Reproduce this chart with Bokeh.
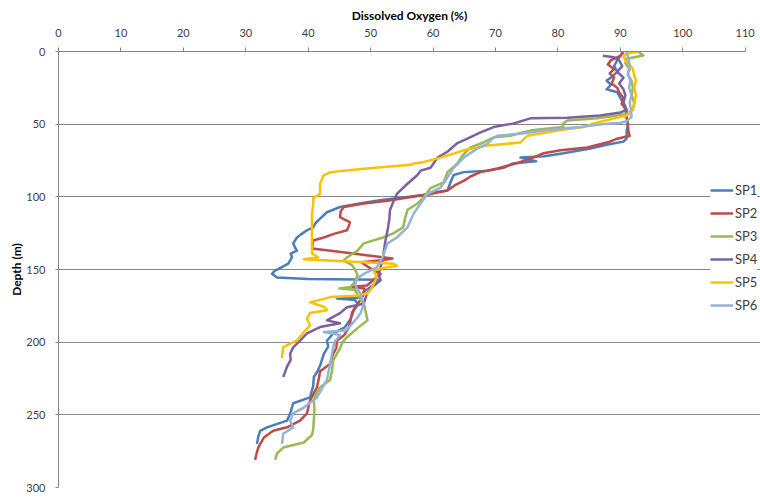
from bokeh.plotting import figure
from bokeh.models import Range1d, FixedTicker, Legend, LegendItem, Title
from bokeh.embed import file_html
from bokeh.resources import INLINE

# ---- data ----
series_names = ["SP1", "SP2", "SP3", "SP4", "SP5", "SP6"]
series_colors = ["#4A7EBB", "#BE4B48", "#98B954", "#7D60A0", "#FFC000", "#95B3D7"]

sp1_depth = [0, 3, 6, 10, 14, 18, 20, 23, 26, 28, 32, 36, 40, 45, 50, 55, 60, 62, 64, 66.7, 70, 72, 73, 75.5, 77, 80, 82, 83, 85, 90, 95.6, 97, 98, 100.4, 102, 104, 107, 110.6, 115, 118, 121, 123, 126, 128, 132, 135, 137, 139, 141.5, 146, 149, 151, 153, 155.5, 156.5, 157, 159, 162, 165, 168, 169.5, 170, 171, 174, 178, 182, 186, 190, 194, 199, 203, 208, 215, 220, 224, 230, 238, 242, 248, 254, 258.6, 261, 265, 270]
sp1_do = [90.5, 90, 89.5, 89, 89.5, 88.5, 87.8, 88.5, 87.8, 89.5, 90, 90.5, 90.8, 91, 91.2, 91, 91, 90.5, 88, 85.2, 80.9, 77.8, 74.0, 76.5, 72.8, 71.3, 68.7, 64.9, 63.3, 62.8, 62.3, 60, 59.6, 55.2, 52, 48.9, 45.1, 43, 41.9, 41.2, 40.8, 39.8, 38.8, 38.2, 37.6, 37.9, 38.2, 37.2, 37.4, 36.8, 35.5, 34.6, 34.2, 35, 40, 51.5, 50.8, 50, 49, 48.5, 48, 44.6, 47.5, 48, 47.3, 47, 46.5, 45.8, 44, 43, 43.2, 42.5, 42, 41.5, 40.9, 40.8, 40.3, 37.6, 37.2, 36.6, 33.4, 32.3, 32, 31.8]

sp2_depth = [0, 3, 6, 9, 12, 15, 18, 22, 25, 28, 32, 36, 40, 45, 50, 55, 58, 60, 62.5, 66, 68, 70, 73, 76, 78, 80.5, 83, 86, 89, 92, 95.6, 98, 100.5, 102.7, 104.6, 107, 110, 114, 117.6, 120, 123, 125.5, 128, 130, 135.6, 137.6, 140, 142.5, 143.5, 145, 148, 153, 157, 161, 162, 163, 168, 172, 176, 180, 185, 190, 195, 199, 204, 208, 215, 220, 225, 231, 240, 249, 254, 258.6, 261, 265.6, 272.5, 277, 281]
sp2_do = [90.5, 90, 88.5, 88, 89, 88.3, 89, 88.6, 89.5, 89.8, 90.5, 90.2, 91, 91, 91.2, 91.3, 91.5, 89.5, 88, 84.7, 80.4, 77.7, 76, 74, 72.5, 70.3, 67.6, 66, 64.9, 63.5, 62.3, 59.6, 56, 52.7, 48.9, 45.7, 45.2, 45.1, 46.7, 46.5, 46.2, 44.1, 42.5, 40.8, 40.6, 44.6, 49, 53.5, 52, 48.5, 49.5, 51.6, 50.5, 49.4, 46.8, 49, 48.8, 48.2, 47.5, 47, 46.8, 46.5, 45.8, 44.6, 44.5, 44, 43.5, 41.9, 41.7, 41.4, 40.3, 39.8, 38.7, 36.6, 34.4, 32.9, 32, 31.7, 31.5]

sp3_depth = [0, 2.8, 5, 8, 12, 16, 20, 25, 30, 35, 40, 43, 44, 46, 47.5, 50, 52, 54, 56, 58, 59, 62.6, 66, 71.6, 77, 83, 90, 94, 100.4, 104.6, 109, 115, 121, 125, 128, 132, 137, 141.7, 143.8, 147, 150, 154, 158, 162, 163, 164, 168, 175, 185, 190, 196.6, 200, 205, 212.6, 220, 226, 231, 236, 240, 247, 254, 260, 264, 269, 272.5, 276.6, 281]
sp3_do = [92.8, 93.7, 91, 90.8, 91.5, 91.2, 91.8, 92, 91.8, 92.2, 92, 91, 89.5, 86.3, 81.5, 80.7, 80.9, 76.1, 74, 72.4, 69.7, 68.1, 66, 64.7, 63.9, 62.3, 61.7, 59.6, 58.5, 57.5, 55.9, 55.5, 55.2, 53.7, 52, 48.9, 47.9, 46.2, 45.7, 47, 47.5, 47.9, 47.5, 46.8, 45, 47.5, 48, 49, 49.5, 48, 46.2, 45.5, 45, 44, 43.8, 43.5, 41.9, 41.2, 40.9, 41, 40.9, 40.8, 40.6, 39.3, 36, 35, 34.7]

sp4_depth = [3, 4, 6, 10, 14, 18, 22, 26, 30, 35, 40, 42, 44, 45.6, 46, 49.5, 52, 55.7, 60, 63, 69, 73, 80, 82, 85, 91, 98, 102.7, 109, 115, 121, 132, 143.8, 153, 157.5, 162, 166.7, 173.6, 176, 180, 185, 187, 189.6, 194, 199, 203.6, 208, 212, 217, 224]
sp4_do = [87.2, 89, 89.8, 90.3, 89.5, 90.5, 89.8, 90.5, 90.8, 90.5, 91, 90, 86.8, 81.5, 75.6, 72.9, 69.7, 67.6, 65.5, 63.9, 62.3, 60.7, 59.6, 58, 57.5, 55.9, 54.2, 53.7, 53.1, 53, 52.8, 52.3, 51.9, 51.3, 51.6, 50.3, 49.4, 48.9, 46.2, 45.1, 43, 45.1, 41.9, 39.8, 38.7, 37.6, 37.1, 37.2, 36.6, 36]

sp5_depth = [0, 1.5, 3, 6, 9, 12, 16, 20, 25, 30, 35, 40, 44, 46, 49.5, 52, 54, 58, 62.6, 64.7, 68, 73, 76, 77, 78, 80.6, 83, 85, 91, 98, 101, 105, 111.5, 128, 139, 141.6, 143, 144, 145, 146, 147.5, 149, 150.7, 155, 160, 164, 166.7, 168, 169, 172.6, 175.6, 178, 180, 183.7, 188.5, 193, 199, 201, 203.6, 207, 211]
sp5_do = [92.7, 91, 90.5, 90.8, 91.5, 92, 92.2, 92.5, 92.2, 92.5, 92.3, 92, 91.1, 89, 85.7, 84.1, 80.4, 75.1, 74, 68.7, 64.9, 61.2, 58.5, 57, 56.4, 48.9, 43.6, 42.5, 41.9, 41.9, 40.8, 40.8, 40.6, 40.6, 40.6, 41.6, 39.3, 44, 48.9, 53.7, 54.2, 52, 50.5, 51, 50.5, 50, 49.4, 47.3, 43.6, 40.3, 42.5, 43, 40.3, 39.8, 40.3, 39.3, 38.2, 37.1, 36, 35.9, 35.8]

sp6_depth = [0, 5, 10, 15, 20, 25, 30, 35, 40, 45, 48, 49, 50, 52, 54, 56.6, 58, 60, 63.5, 66.7, 73, 80, 86.7, 93.6, 98, 104.6, 111.5, 121, 128, 132, 141.7, 148.6, 153, 156, 160, 163, 166.7, 173.6, 180, 183, 188.5, 192, 193, 195, 200, 203.6, 215, 226, 238, 245, 249, 254, 258.6, 263, 270]
sp6_do = [91, 91.3, 91.5, 91.2, 91.6, 91.4, 91.8, 91.5, 91.7, 91.8, 91, 90, 87, 83.6, 78.3, 74, 70.3, 69.5, 68.7, 67.1, 64.9, 63.3, 62.3, 61.2, 59.1, 58, 56.9, 55.9, 54.2, 52.7, 51.9, 51, 48.9, 47.9, 47.5, 47.8, 48.4, 48.9, 48.4, 47.9, 46.8, 46, 42.5, 45.1, 44.2, 44, 43.5, 43, 41.4, 39.3, 37.6, 37.1, 37.6, 36, 35.8]

x_ticks = [0, 10, 20, 30, 40, 50, 60, 70, 80, 90, 100, 110]
y_ticks = [0, 50, 100, 150, 200, 250, 300]
x_min, x_max = 0, 110
y_min, y_max = 0, 300

series = [(sp1_do, sp1_depth), (sp2_do, sp2_depth), (sp3_do, sp3_depth),
          (sp4_do, sp4_depth), (sp5_do, sp5_depth), (sp6_do, sp6_depth)]

FONT = "Lato"
TEXT = "#404040"
AXIS = "#868686"

# plot frame spans 58..760 px; the 0..110 axis occupies 58..745 px,
# the extra room on the right holds the legend (as in the original)
FRAME_LEFT, AXIS_RIGHT, FIG_W = 58.3, 744.7, 760
x_end = x_max * (FIG_W - FRAME_LEFT) / (AXIS_RIGHT - FRAME_LEFT)

p = figure(width=FIG_W, height=498, output_backend="svg", toolbar_location=None,
           x_range=Range1d(x_min, x_end), y_range=Range1d(y_max, y_min),
           x_axis_location="above")
p.min_border_left = 58
p.min_border_right = 0
p.min_border_top = 51
p.min_border_bottom = 11
p.outline_line_color = None
p.background_fill_color = "white"
p.border_fill_color = "white"

p.xaxis.ticker = FixedTicker(ticks=x_ticks)
p.xaxis.bounds = (x_min, x_max)
p.yaxis.ticker = FixedTicker(ticks=y_ticks)
p.xaxis.axis_label = "Dissolved Oxygen (%)"
p.yaxis.axis_label = None
for ax in (p.xaxis, p.yaxis):
    ax.axis_line_color = AXIS
    ax.major_tick_line_color = AXIS
    ax.minor_tick_line_color = None
    ax.major_tick_in = 0
    ax.major_label_text_font = FONT
    ax.major_label_text_font_size = "11px"
    ax.major_label_text_color = TEXT
    ax.axis_label_text_font = FONT
    ax.axis_label_text_font_size = "12px"
    ax.axis_label_text_font_style = "bold"
    ax.axis_label_text_color = "#000000"
p.xaxis.major_tick_out = 4
p.yaxis.major_tick_out = 3
p.xaxis.major_label_standoff = 11
p.xaxis.axis_label_standoff = 3
p.yaxis.major_label_standoff = 10

ytitle = Title(text="Depth (m)", align="center", standoff=0,
               text_font=FONT, text_font_size="12px", text_font_style="bold",
               text_color="#000000")
p.add_layout(ytitle, "left")

p.xgrid.visible = False
p.ygrid.ticker = FixedTicker(ticks=y_ticks)
p.ygrid.bounds = (x_min, x_max)
p.ygrid.grid_line_color = AXIS
p.ygrid.grid_line_width = 1

items = []
for (xs, ys), name, col in zip(series, series_names, series_colors):
    r = p.line(x=xs, y=ys, line_color=col, line_width=2.5, line_join="round")
    items.append(LegendItem(label=name, renderers=[r]))

legend = Legend(items=items, location=(652, 174))
legend.background_fill_color = "white"
legend.background_fill_alpha = 1.0
legend.border_line_color = None
legend.label_text_font = FONT
legend.label_text_font_size = "13px"
legend.label_text_color = TEXT
legend.glyph_width = 23
legend.glyph_height = 16
legend.label_height = 16
legend.label_standoff = 2
legend.spacing = 7
legend.padding = 0
legend.margin = 0
p.add_layout(legend)

open("out.html", "w").write(file_html(p, INLINE))
